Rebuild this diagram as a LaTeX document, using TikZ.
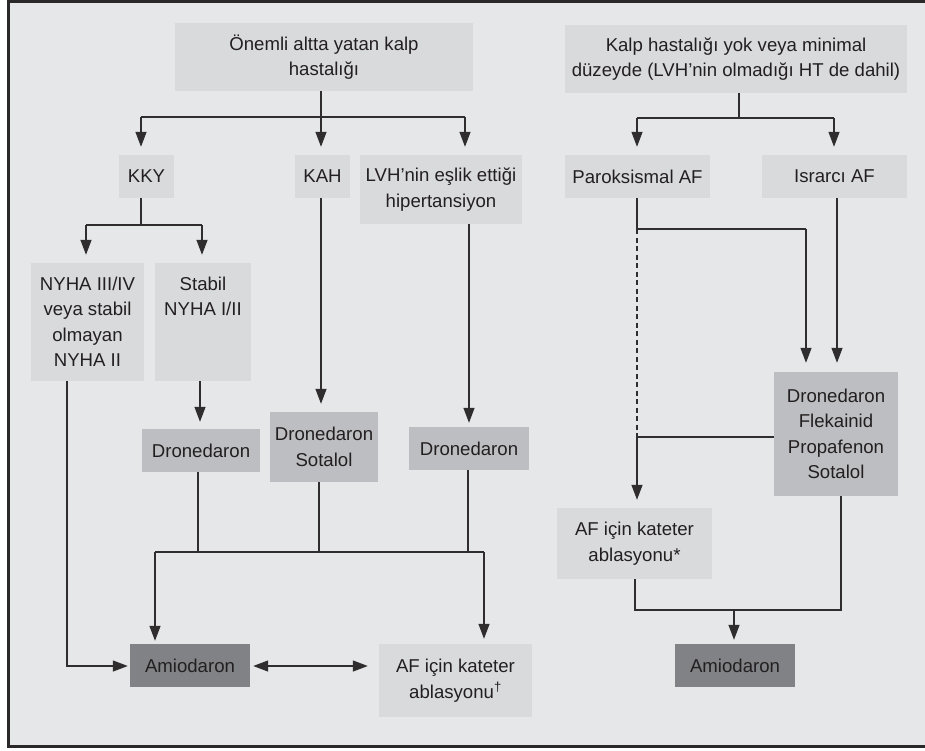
\documentclass[tikz,border=0pt]{standalone}
\usepackage{fontspec}
\setmainfont{Liberation Sans}
\usetikzlibrary{arrows.meta}

\definecolor{bgpanel}{HTML}{E6E7E9}
\definecolor{boxlight}{HTML}{D9DADC}
\definecolor{boxmid}{HTML}{BDBEC1}
\definecolor{boxdark}{HTML}{808285}
\definecolor{ink}{HTML}{231F20}
\definecolor{wire}{HTML}{2F2D2E}
\definecolor{framecol}{HTML}{2A2829}

\tikzset{
  box/.style={rectangle, inner sep=0pt, align=center, text=ink,
    font=\fontsize{18.6}{25.5}\selectfont},
  lightbox/.style={box, fill=boxlight},
  midbox/.style={box, fill=boxmid},
  darkbox/.style={box, fill=boxdark},
  wireline/.style={draw=wire, line width=1.3pt},
  arrowline/.style={wireline, arrows={-Triangle[length=15pt,width=11pt]}},
  dashline/.style={wireline, dash pattern=on 5pt off 3.5pt},
}

\begin{document}
\begin{tikzpicture}[x=1pt, y=-1pt]
\useasboundingbox (0,0) rectangle (925,750);
\fill[white] (0,0) rectangle (925,750);
\begin{scope}
  \clip (0,0) rectangle (925,750);
  \draw[draw=framecol, line width=3pt, fill=bgpanel] (8,1) rectangle (940,746.5);
\end{scope}

% ---- boxes, left tree ----
\node[lightbox, minimum width=298pt, minimum height=68pt] (top1) at (324,57) {Önemli altta yatan kalp\\hastalığı};
\node[lightbox, minimum width=55pt, minimum height=43pt] (kky) at (146.5,176.5) {KKY};
\node[lightbox, minimum width=55pt, minimum height=43pt] (kah) at (322.5,176.5) {KAH};
\node[lightbox, minimum width=162pt, minimum height=69pt] (lvh) at (441,189.5) {LVH’nin eşlik ettiği\\hipertansiyon};
\node[lightbox, minimum width=113pt, minimum height=118pt] (nyha) at (87.5,322) {NYHA III/IV\\veya stabil\\olmayan\\NYHA II};
\node[lightbox, minimum width=96pt, minimum height=118pt] (stabil) at (203,322) {Stabil\\NYHA I/II\\\mbox{}\\\mbox{}};
\node[midbox, minimum width=118pt, minimum height=43pt] (dron1) at (201,450.5) {Dronedaron};
\node[midbox, minimum width=108pt, minimum height=70pt] (dronsot) at (324,447) {Dronedaron\\Sotalol};
\node[midbox, minimum width=120pt, minimum height=43pt] (dron2) at (469,448.5) {Dronedaron};
\node[darkbox, minimum width=120pt, minimum height=43pt] (amio1) at (190,665.5) {Amiodaron};
\node[lightbox, minimum width=153pt, minimum height=73pt] (abl1) at (455.5,680.5) {AF için kateter\\ablasyonu\textsuperscript{†}};

% ---- boxes, right tree ----
\node[lightbox, minimum width=342pt, minimum height=68pt] (top2) at (736,59) {Kalp hastalığı yok veya minimal\\düzeyde (LVH’nin olmadığı HT de dahil)};
\node[lightbox, minimum width=145pt, minimum height=43pt] (parok) at (637.5,176.5) {Paroksismal AF};
\node[lightbox, minimum width=145pt, minimum height=43pt] (israr) at (834.5,176.5) {Israrcı AF};
\node[midbox, minimum width=124pt, minimum height=124pt] (drugs) at (836,434) {Dronedaron\\Flekainid\\Propafenon\\Sotalol};
\node[lightbox, minimum width=155pt, minimum height=71pt] (abl2) at (634.5,543.5) {AF için kateter\\ablasyonu*};
\node[darkbox, minimum width=120pt, minimum height=43pt] (amio2) at (735,665.5) {Amiodaron};

% ---- junction points ----
\coordinate (j1) at (321,117);
\coordinate (j1l) at (141,117);
\coordinate (j1r) at (465,117);
\coordinate (j2) at (141,225);
\coordinate (j2l) at (86,225);
\coordinate (j2r) at (202,225);
\coordinate (lvhx) at (469,0);
\coordinate (nyhax) at (67,0);
\coordinate (stabx) at (200,0);
\coordinate (kahx) at (321,0);
\coordinate (bus) at (155,552);
\coordinate (busr) at (484,552);
\coordinate (d1x) at (198,0);
\coordinate (dsx) at (319,0);
\coordinate (d2x) at (468,0);
\coordinate (nyhacorner) at (67,666);
\coordinate (twoway) at (310,666);

\coordinate (j3) at (739,118);
\coordinate (j3l) at (637,118);
\coordinate (j3r) at (834,118);
\coordinate (pk1) at (637,229);
\coordinate (pk1r) at (806,229);
\coordinate (pk2) at (637,437);
\coordinate (isrx) at (837,0);
\coordinate (j4l) at (635,610);
\coordinate (j4r) at (841,610);
\coordinate (j4m) at (734,610);

% ---- connectors, left tree ----
\draw[wireline] (top1.south -| j1) -- (j1);
\draw[wireline] (j1l) -- (j1r);
\draw[arrowline, shorten >=8pt] (j1l) -- (j1l |- kky.north);
\draw[arrowline, shorten >=8pt] (j1) -- (j1 |- kah.north);
\draw[arrowline, shorten >=8pt] (j1r) -- (j1r |- lvh.north);

\draw[wireline] (kky.south -| j2) -- (j2);
\draw[wireline] (j2l) -- (j2r);
\draw[arrowline, shorten >=8pt] (j2l) -- (j2l |- nyha.north);
\draw[arrowline, shorten >=8pt] (j2r) -- (j2r |- stabil.north);

\draw[arrowline, shorten >=7pt] (stabil.south -| stabx) -- (stabx |- dron1.north);
\draw[arrowline, shorten >=8pt] (kah.south -| kahx) -- (kahx |- dronsot.north);
\draw[arrowline, shorten >=4pt] (lvh.south -| lvhx) -- (lvhx |- dron2.north);

\draw[wireline] (dron1.south -| d1x) -- (d1x |- bus);
\draw[wireline] (dronsot.south -| dsx) -- (dsx |- bus);
\draw[wireline] (dron2.south -| d2x) -- (d2x |- bus);
\draw[wireline] (bus) -- (busr);
\draw[arrowline, shorten >=3pt] (bus) -- (bus |- amio1.north);
\draw[arrowline, shorten >=5pt] (busr) -- (busr |- abl1.north);

\draw[arrowline, shorten >=2pt] (nyha.south -| nyhax) -- (nyhacorner) -- (nyhacorner -| amio1.west);
% two-way link between Amiodaron and ablation
\draw[arrowline, shorten >=3pt] (twoway) -- (twoway -| amio1.east);
\draw[arrowline, shorten >=11pt] (twoway) -- (twoway -| abl1.west);

% ---- connectors, right tree ----
\draw[wireline] (top2.south -| j3) -- (j3);
\draw[wireline] (j3l) -- (j3r);
\draw[arrowline, shorten >=8pt] (j3l) -- (j3l |- parok.north);
\draw[arrowline, shorten >=8pt] (j3r) -- (j3r |- israr.north);

\draw[wireline] (parok.south -| pk1) -- (pk1) -- (pk1r);
\draw[arrowline, shorten >=9pt] (pk1r) -- (pk1r |- drugs.north);
\draw[arrowline, shorten >=9pt] (israr.south -| isrx) -- (isrx |- drugs.north);
\draw[dashline] (pk1) -- (pk2);
\draw[wireline] (drugs.west |- pk2) -- (pk2);
\draw[arrowline, shorten >=8pt] (pk2) -- (pk2 |- abl2.north);

\draw[wireline] (abl2.south -| j4l) -- (j4l) -- (j4r) -- (j4r |- drugs.south);
\draw[arrowline, shorten >=4pt] (j4m) -- (j4m |- amio2.north);
\end{tikzpicture}
\end{document}
